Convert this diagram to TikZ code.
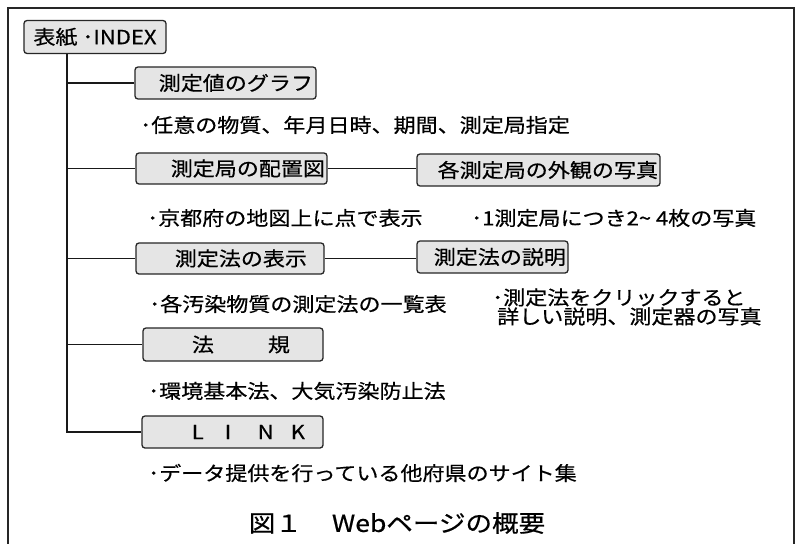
\documentclass[tikz,border=0pt]{standalone}
\usepackage{fontspec}
\setmainfont{Noto Sans CJK JP}[FakeStretch=1.13,FakeBold=0.5]
\newcommand\myfont{\fontsize{19.5}{19}\selectfont}
\newcommand\capfont{\fontsize{23.5}{26}\selectfont}
\begin{document}
\begin{tikzpicture}[x=1pt,y=-1pt,
  box/.style={draw=black!85, fill=black!10, rounded corners=3pt, line width=1.3pt, inner ysep=0pt, font=\myfont},
  conn/.style={line width=1.3pt, black!90},
  txt/.style={anchor=west, inner sep=0pt, font=\myfont}]
\useasboundingbox (0,0) rectangle (796,544);
\fill[white] (0,0) rectangle (796,544);
\draw[line width=2pt, black!85] (8,560) -- (8,8) -- (794,8) -- (794,560);

\node[box, minimum width=142pt, minimum height=33pt] (root) at (95,37) {表紙 ･INDEX};
\node[box, minimum height=32pt, inner xsep=3pt, text width=175pt, align=right] (b1) at (225.5,83) {測定値のグラフ};
\node[box, minimum height=31pt, inner xsep=2pt, text width=187pt, align=right] (b2) at (231.5,168.5) {測定局の配置図};
\node[box, minimum height=32pt, inner xsep=2pt, text width=239pt, align=right] (b3) at (538.5,170) {各測定局の外観の写真};
\node[box, minimum height=31pt, inner xsep=17pt, text width=154pt, align=right] (b4) at (230,258.5) {測定法の表示};
\node[box, minimum height=32pt, inner xsep=2pt, text width=147pt, align=right] (b5) at (492.5,257) {測定法の説明};
\node[box, minimum height=33pt, inner xsep=33pt, text width=114pt, align=right] (b6) at (233,344.5) {法\hspace{54pt}規};
\node[box, minimum height=32pt, inner xsep=18pt, text width=145pt, align=right] (b7) at (232.5,432) {\makebox[33pt][l]{L}\makebox[33pt][l]{I}\makebox[33pt][l]{N}K};

\coordinate (top) at (67,54);
\draw[conn] (top) |- (b7.west);
\draw[conn] (top |- b1.west) -- (b1.west);
\draw[conn] (top |- b2.west) -- (b2.west);
\draw[conn] (top |- b4.west) -- (b4.west);
\draw[conn] (top |- b6.west) -- (b6.west);
\draw[conn] (b2.east) -- (b2.east -| b3.west);
\draw[conn] (b4.east) -- (b4.east -| b5.west);

\node[txt] (t1) at (140,125) {･任意の物質、年月日時、期間、測定局指定};
\node[txt] (t2) at (147,218) {･京都府の地図上に点で表示};
\node[txt] (t3) at (471,218) {･1測定局につき2\textasciitilde\ 4枚の写真};
\node[txt] (t4) at (149,304) {･各汚染物質の測定法の一覧表};
\node[txt, align=left] (t5) at (492,307) {･測定法をクリックすると\\\hspace*{5pt}詳しい説明、測定器の写真};
\node[txt] (t6) at (148,391) {･環境基本法、大気汚染防止法};
\node[txt] (t7) at (148,473) {･データ提供を行っている他府県のサイト集};
\node[anchor=center, inner sep=0pt, font=\capfont] (cap) at (397,523) {図１\hspace{30pt}Webページの概要};
\end{tikzpicture}
\end{document}
